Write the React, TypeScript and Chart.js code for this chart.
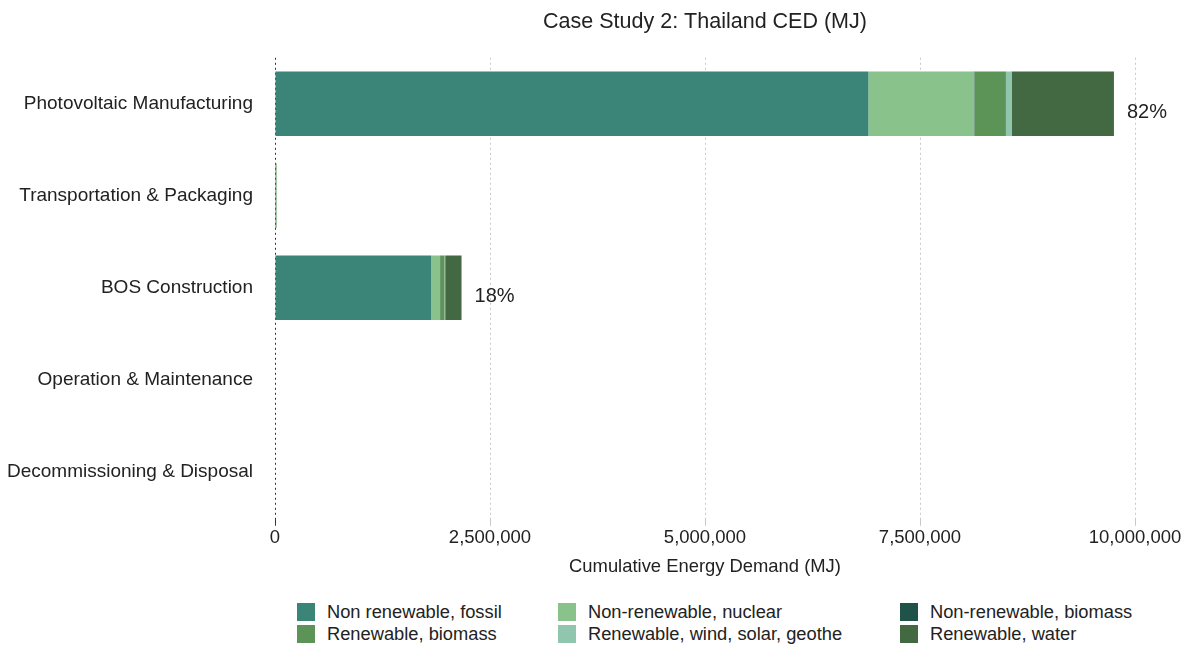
import React, { useEffect, useRef } from "react";
import { Chart, registerables } from "chart.js";

Chart.register(...registerables);

const categories = [
  "Photovoltaic Manufacturing",
  "Transportation & Packaging",
  "BOS Construction",
  "Operation & Maintenance",
  "Decommissioning & Disposal",
];

const seriesNames = [
  "Non renewable, fossil",
  "Non-renewable, nuclear",
  "Non-renewable, biomass",
  "Renewable, biomass",
  "Renewable, wind, solar, geothe",
  "Renewable, water",
];

const fossil = [6900000, 12000, 1814000, 0, 0];
const nuclear = [1230000, 4000, 105000, 0, 0];
const nrBiomass = [5000, 0, 2000, 0, 0];
const rBiomass = [364000, 3000, 50000, 0, 0];
const windSolar = [66000, 500, 8000, 0, 0];
const water = [1190000, 2000, 190000, 0, 0];

const seriesValues = [fossil, nuclear, nrBiomass, rBiomass, windSolar, water];

const seriesColors = ["#3b8478", "#89c28a", "#1f5249", "#5c9356", "#90c6ae", "#426942"];

const xTicks = [0, 2500000, 5000000, 7500000, 10000000];

const FONT = "'Liberation Sans', Helvetica, Arial, sans-serif";
const TEXT = "#222222";

const percentPlugin = {
  id: "percentLabels",
  afterDatasetsDraw(chart: any) {
    const { ctx, scales } = chart;
    const totals = categories.map((_, i) =>
      seriesValues.reduce((s, arr) => s + arr[i], 0)
    );
    const grand = totals.reduce((a, b) => a + b, 0);
    ctx.save();
    ctx.font = `20px ${FONT}`;
    ctx.fillStyle = TEXT;
    ctx.textAlign = "left";
    ctx.textBaseline = "middle";
    totals.forEach((t, i) => {
      const pct = Math.round((t / grand) * 100);
      if (pct < 1) return;
      const x = scales.x.getPixelForValue(t) + 13;
      const y = scales.y.getPixelForValue(i) + 9;
      ctx.fillText(`${pct}%`, x, y);
    });
    ctx.restore();
  },
};

export default function App() {
  const ref = useRef<HTMLCanvasElement>(null);

  useEffect(() => {
    const prevMargin = document.body.style.margin;
    document.body.style.margin = "0";
    if (!ref.current) return;
    const chart = new Chart(ref.current, {
      type: "bar",
      data: {
        labels: categories,
        datasets: seriesNames.map((name, k) => ({
          label: name,
          data: seriesValues[k],
          backgroundColor: seriesColors[k],
          borderWidth: 0,
          barPercentage: 1,
          categoryPercentage: 0.7,
        })),
      },
      options: {
        indexAxis: "y",
        animation: false,
        responsive: false,
        maintainAspectRatio: false,
        layout: { padding: { left: 0, right: 50, top: 1, bottom: 0 } },
        plugins: {
          legend: { display: false },
          tooltip: { enabled: false },
          title: {
            display: true,
            text: "Case Study 2: Thailand CED (MJ)",
            fullSize: false,
            color: TEXT,
            font: { family: FONT, size: 21.5, weight: "normal" },
            padding: { top: 0, bottom: 23 },
          },
        },
        scales: {
          x: {
            type: "linear",
            stacked: true,
            min: 0,
            max: 10000000,
            afterBuildTicks(scale: any) {
              scale.ticks = xTicks.map((v) => ({ value: v }));
            },
            afterFit(scale: any) {
              scale.paddingRight = 0;
            },
            ticks: {
              color: TEXT,
              font: { family: FONT, size: 18.5 },
              padding: 1,
              maxRotation: 0,
              callback: (v: any) => Number(v).toLocaleString("en-US"),
            },
            grid: {
              display: true,
              drawTicks: true,
              tickLength: 8,
              lineWidth: 1,
              color: (c: any) => (c.tick && c.tick.value === 0 ? "#333333" : "#c8c8c8"),
            },
            border: { display: false, dash: [2, 3] },
            title: {
              display: true,
              text: "Cumulative Energy Demand (MJ)",
              color: TEXT,
              font: { family: FONT, size: 18.4 },
              padding: { top: 6, bottom: 12 },
            },
          },
          y: {
            type: "category",
            stacked: true,
            afterFit(scale: any) {
              scale.width = 267;
            },
            ticks: {
              color: TEXT,
              font: { family: FONT, size: 19 },
              padding: 22,
            },
            grid: { display: false, drawTicks: false },
            border: { display: false },
          },
        },
      },
      plugins: [percentPlugin],
    });
    return () => {
      chart.destroy();
      document.body.style.margin = prevMargin;
    };
  }, []);

  const colLeft = [297, 558, 900];
  const rowTop = [603, 625];

  return (
    <div
      style={{
        position: "relative",
        width: 1185,
        height: 648,
        overflow: "hidden",
        fontFamily: FONT,
      }}
    >
      <canvas
        ref={ref}
        width={1177}
        height={582}
        style={{ display: "block", position: "absolute", left: 8, top: 8 }}
      />
      {seriesNames.map((name, k) => {
        const col = k % 3;
        const row = Math.floor(k / 3);
        return (
          <div
            key={name}
            style={{
              position: "absolute",
              left: colLeft[col],
              top: rowTop[row],
              height: 18,
              display: "flex",
              alignItems: "center",
              whiteSpace: "nowrap",
            }}
          >
            <span
              style={{
                display: "inline-block",
                width: 18,
                height: 18,
                background: seriesColors[k],
                marginRight: 12,
                flex: "none",
              }}
            />
            <span style={{ fontSize: 18.3, color: TEXT, lineHeight: "18px" }}>{name}</span>
          </div>
        );
      })}
    </div>
  );
}
